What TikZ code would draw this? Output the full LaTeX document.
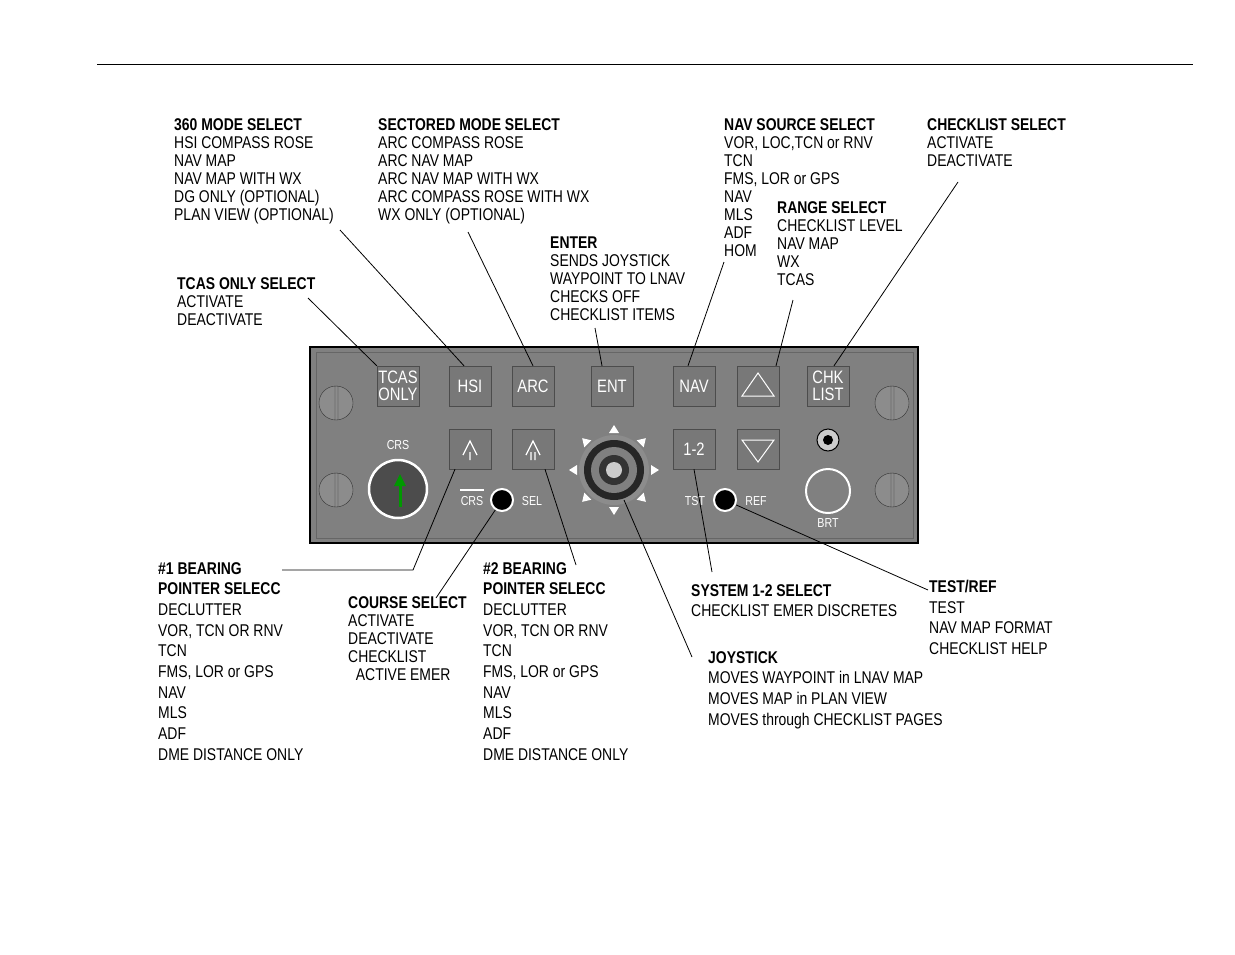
\documentclass[tikz,border=0pt]{standalone}
\usepackage{fontspec}
\setmainfont[FakeStretch=0.82]{Liberation Sans}
\usetikzlibrary{positioning}
\definecolor{panelgray}{RGB}{128,128,128}
\definecolor{keygray}{RGB}{120,120,120}
\definecolor{screwgray}{RGB}{140,140,140}
\tikzset{
  lbl/.style = {anchor=north west, align=left, inner sep=0pt, font=\fontsize{17}{18}\selectfont},
  lbllong/.style = {lbl, font=\fontsize{17}{20.7}\selectfont},
  leader/.style = {black, line width=0.8pt},
  key/.style = {draw=black!70, fill=keygray, minimum width=42pt, minimum height=40pt, text=white,
                inner sep=0pt, font=\fontsize{18}{17}\selectfont, align=center},
  knob/.style = {circle, draw=white, line width=2pt, fill=black},
  paneltxt/.style = {text=white, font=\fontsize{13}{13}\selectfont},
}
\begin{document}
\begin{tikzpicture}[x=1pt,y=-1pt]
  \useasboundingbox (0,0) rectangle (1235,954);
  \draw[line width=0.8pt] (97,64) -- (1193,64);

  % panel
  \draw[line width=1.5pt, fill=panelgray] (310,347) rectangle (918,543);
  \draw[black!60] (316,352) rectangle (913,538);
  \foreach \sx/\sy in {336/403, 336/490, 892/403, 892/490}
    \draw[black!80, fill=screwgray] (\sx,\sy) circle (17pt)
      (\sx-1,\sy-17) -- (\sx-1,\sy+17) (\sx+2,\sy-17) -- (\sx+2,\sy+17);

  % keys, upper row
  \node[key] (tcas) at (398,386) {TCAS\\ONLY};
  \node[key] (hsi) at (470,386) {HSI};
  \node[key] (arc) at (533,386) {ARC};
  \node[key] (ent) at (612,386) {ENT};
  \node[key] (nav) at (694,386) {NAV};
  \node[key] (rngup) at (758,386) {};
  \node[key] (chk) at (828,386) {CHK\\LIST};
  \draw[white, line width=1pt] (742,396) -- (758,373) -- (774,396) -- cycle;
  % keys, lower row
  \node[key] (brg1) at (470,449) {};
  \node[key] (brg2) at (533,449) {};
  \node[key] (sys) at (694,449) {1-2};
  \node[key] (rngdn) at (758,449) {};
  \draw[white, line width=1.2pt] (463,455) -- (470,441) -- (477,455) (470,452) -- (470,460);
  \draw[white, line width=1.2pt] (526,455) -- (533,441) -- (540,455) (531,452) -- (531,460) (535,452) -- (535,460);
  \draw[white, line width=1pt] (742,440) -- (774,440) -- (758,462) -- cycle;

  % knobs
  \node[circle, draw=white, line width=2.5pt, fill=black!70, minimum size=58pt] (crs) at (398,489) {};
  \draw[green!60!black, line width=3pt] (400,507) -- (400,485);
  \fill[green!60!black] (394,486) -- (400,474) -- (406,486) -- cycle;
  \node[paneltxt] (crslbl) at (398,445) {CRS};
  \node[knob, minimum size=22pt] (crssel) at (502,500) {};
  \node[paneltxt] (crstxt) at (472,501) {CRS};
  \draw[white, line width=1.5pt] (460,490) -- (484,490);
  \node[paneltxt] (seltxt) at (532,501) {SEL};
  \node[knob, minimum size=22pt] (tstref) at (725,500) {};
  \node[paneltxt] (tsttxt) at (695,501) {TST};
  \node[paneltxt] (reftxt) at (756,501) {REF};
  \node[circle, draw=white, line width=2pt, fill=panelgray, minimum size=44pt] (brt) at (828,491) {};
  \node[paneltxt] (brttxt) at (828,523) {BRT};
  \node[circle, draw=black, fill=white!80!black, line width=1pt, minimum size=22pt] (jack) at (828,440) {};
  \fill[black] (jack) circle (5pt);

  % joystick
  \fill[black!45] (614,470) circle (35pt);
  \fill[black!85] (614,470) circle (30pt);
  \fill[black!50] (614,470) circle (23pt);
  \fill[black!80] (614,470) circle (15pt);
  \node[circle, fill=white!80!black, minimum size=16pt, inner sep=0pt] (joy) at (614,470) {};
  \foreach \a in {0,45,...,315}
    \fill[white, rotate around={\a:(614,470)}] (609,433) -- (619,433) -- (614,425) -- cycle;

  % upper labels
  \node[lbl] (l360) at (174,118) {\textbf{360 MODE SELECT}\\HSI COMPASS ROSE\\NAV MAP\\NAV MAP WITH WX\\DG ONLY (OPTIONAL)\\PLAN VIEW (OPTIONAL)};
  \node[lbl] (lsect) at (378,118) {\textbf{SECTORED MODE SELECT}\\ARC COMPASS ROSE\\ARC NAV MAP\\ARC NAV MAP WITH WX\\ARC COMPASS ROSE WITH WX\\WX ONLY (OPTIONAL)};
  \node[lbl] (lnav) at (724,118) {\textbf{NAV SOURCE SELECT}\\VOR, LOC,TCN or RNV\\TCN\\FMS, LOR or GPS\\NAV\\MLS\\ADF\\HOM};
  \node[lbl] (lchk) at (927,118) {\textbf{CHECKLIST SELECT}\\ACTIVATE\\DEACTIVATE};
  \node[lbl] (lrng) at (777,201) {\textbf{RANGE SELECT}\\CHECKLIST LEVEL\\NAV MAP\\WX\\TCAS};
  \node[lbl] (lent) at (550,237) {\textbf{ENTER}\\SENDS JOYSTICK\\WAYPOINT TO LNAV\\CHECKS OFF\\CHECKLIST ITEMS};
  \node[lbl] (ltcas) at (177,277) {\textbf{TCAS ONLY SELECT}\\ACTIVATE\\DEACTIVATE};

  % lower labels
  \node[lbllong] (lbrg1) at (158,562) {\textbf{\#1 BEARING}\\\textbf{POINTER SELECC}\\DECLUTTER\\VOR, TCN OR RNV\\TCN\\FMS, LOR or GPS\\NAV\\MLS\\ADF\\DME DISTANCE ONLY};
  \node[lbllong] (lbrg2) at (483,562) {\textbf{\#2 BEARING}\\\textbf{POINTER SELECC}\\DECLUTTER\\VOR, TCN OR RNV\\TCN\\FMS, LOR or GPS\\NAV\\MLS\\ADF\\DME DISTANCE ONLY};
  \node[lbl] (lcrs) at (348,596) {\textbf{COURSE SELECT}\\ACTIVATE\\DEACTIVATE\\CHECKLIST\\\ \ ACTIVE EMER};
  \node[lbllong] (lsys) at (691,584) {\textbf{SYSTEM 1-2 SELECT}\\CHECKLIST EMER DISCRETES};
  \node[lbllong] (ltst) at (929,580) {\textbf{TEST/REF}\\TEST\\NAV MAP FORMAT\\CHECKLIST HELP};
  \node[lbllong] (ljoy) at (708,651) {\textbf{JOYSTICK}\\MOVES WAYPOINT in LNAV MAP\\MOVES MAP in PLAN VIEW\\MOVES through CHECKLIST PAGES};

  % leaders
  \coordinate (t1) at (308,298);  \draw[leader] (t1) -- (tcas.north west);
  \coordinate (t2) at (340,230);  \draw[leader] (t2) -- ([xshift=-6pt]hsi.north);
  \coordinate (t3) at (468,232);  \draw[leader] (t3) -- (arc.north);
  \coordinate (t4) at (595,328);  \draw[leader] (t4) -- ([xshift=-10pt]ent.north);
  \coordinate (t5) at (724,262);  \draw[leader] (t5) -- ([xshift=-6pt]nav.north);
  \coordinate (t6) at (793,300);  \draw[leader] (t6) -- ([xshift=18pt]rngup.north);
  \coordinate (t7) at (958,182);  \draw[leader] (t7) -- ([xshift=6pt]chk.north);
  \coordinate (b1) at (282,570);  \draw[leader] (b1) -- (413,570) -- ([xshift=-15pt]brg1.south);
  \coordinate (b2) at (436,598);  \draw[leader] (b2) -- (crssel);
  \coordinate (b3) at (576,565);  \draw[leader] (b3) -- ([xshift=12pt]brg2.south);
  \coordinate (b4) at (692,657);  \draw[leader] (b4) -- (624,500);
  \coordinate (b5) at (712,572);  \draw[leader] (b5) -- (sys.south);
  \coordinate (b6) at (928,590);  \draw[leader] (b6) -- (tstref);
\end{tikzpicture}
\end{document}
